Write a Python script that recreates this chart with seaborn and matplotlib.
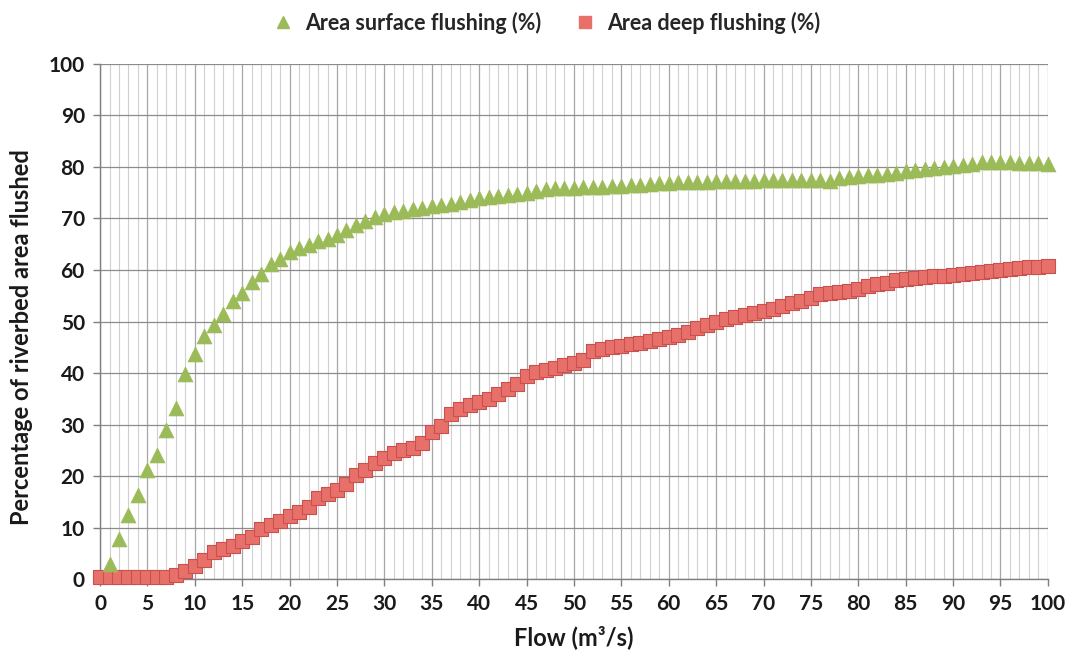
import numpy as np
import pandas as pd
import matplotlib
matplotlib.use("Agg")
import matplotlib.pyplot as plt
from matplotlib.ticker import MultipleLocator
from matplotlib.lines import Line2D
import seaborn as sns

flow = list(range(0, 101))

surface = [
    None, 3.0, 7.8, 12.5, 16.4, 21.2, 24.0, 28.9, 33.3, 39.8,
    43.6, 47.2, 49.3, 51.5, 54.0, 55.5, 57.6, 59.2, 61.2, 62.1,
    63.4, 64.2, 64.9, 65.6, 66.1, 66.8, 67.8, 68.8, 69.5, 70.3,
    70.8, 71.2, 71.5, 71.8, 72.1, 72.4, 72.6, 72.8, 73.2, 73.6,
    73.9, 74.2, 74.4, 74.6, 74.8, 75.0, 75.3, 75.8, 75.9, 76.0,
    76.0, 76.1, 76.2, 76.2, 76.3, 76.4, 76.5, 76.6, 76.7, 76.8,
    76.9, 77.0, 77.0, 77.1, 77.1, 77.2, 77.2, 77.3, 77.3, 77.3,
    77.4, 77.4, 77.5, 77.5, 77.5, 77.5, 77.4, 77.3, 77.8, 78.0,
    78.2, 78.4, 78.5, 78.6, 78.8, 79.2, 79.4, 79.6, 79.8, 80.0,
    80.2, 80.4, 80.5, 81.0, 81.0, 81.0, 80.9, 80.8, 80.8, 80.7,
    80.6,
]

deep = [
    0.3, 0.3, 0.3, 0.3, 0.3, 0.3, 0.3, 0.3, 0.8, 1.6,
    2.6, 3.6, 5.2, 5.8, 6.5, 7.4, 8.1, 9.8, 10.4, 11.2,
    12.2, 13.0, 14.0, 15.8, 16.5, 17.3, 18.5, 20.2, 21.2, 22.5,
    23.5, 24.5, 25.0, 25.5, 26.5, 28.5, 29.8, 32.0, 33.0, 33.8,
    34.3, 35.0, 36.0, 36.8, 37.8, 39.5, 40.2, 40.6, 41.0, 41.5,
    42.0, 42.6, 44.2, 44.6, 45.0, 45.3, 45.6, 45.9, 46.2, 46.6,
    46.9, 47.3, 48.0, 48.7, 49.4, 50.0, 50.5, 50.9, 51.3, 51.7,
    52.0, 52.5, 53.0, 53.6, 54.0, 54.5, 55.3, 55.5, 55.7, 56.0,
    56.4, 56.8, 57.2, 57.5, 58.0, 58.3, 58.5, 58.6, 58.8, 58.9,
    59.1, 59.3, 59.5, 59.7, 59.9, 60.0, 60.2, 60.3, 60.5, 60.6,
    60.7,
]

series_names = ["Area surface flushing (%)", "Area deep flushing (%)"]
x_ticks = list(range(0, 101, 5))
y_ticks = list(range(0, 101, 10))

sns.set_theme(style="white")
plt.rcParams["font.family"] = ["Lato", "DejaVu Sans"]
plt.rcParams["font.weight"] = "bold"

fig = plt.figure(figsize=(10.71, 6.57), dpi=100)
ax = fig.add_axes([0.0934, 0.1187, 0.885, 0.7839])

green = "#9BBB59"
red_face = "#E8706A"
red_edge = "#C9504C"

df_s = pd.DataFrame({"flow": flow, "value": pd.to_numeric(pd.Series(surface), errors="coerce")})
df_d = pd.DataFrame({"flow": flow, "value": deep})

sns.scatterplot(data=df_d, x="flow", y="value", marker="s", s=88,
                color=red_face, edgecolor=red_edge, linewidth=0.8,
                ax=ax, clip_on=False, zorder=4)
sns.scatterplot(data=df_s, x="flow", y="value", marker="^", s=115,
                color=green, edgecolor=green, linewidth=0.5,
                ax=ax, clip_on=False, zorder=5)

ax.set_xlim(0, 100)
ax.set_ylim(0, 100)
ax.set_xticks(x_ticks)
ax.set_yticks(y_ticks)
ax.xaxis.set_minor_locator(MultipleLocator(1))

ax.grid(True, which="major", axis="y", color="#8c8c8c", linewidth=0.9)
ax.grid(True, which="major", axis="x", color="#a6a6a6", linewidth=0.9)
ax.grid(True, which="minor", axis="x", color="#d0d0d0", linewidth=0.8)
ax.set_axisbelow(True)

for side in ["top", "right"]:
    ax.spines[side].set_visible(False)
for side in ["left", "bottom"]:
    ax.spines[side].set_color("#7f7f7f")
    ax.spines[side].set_linewidth(1.0)

ax.tick_params(axis="both", which="major", length=5, width=1.0,
               color="#7f7f7f", direction="out", labelsize=15,
               bottom=True, left=True, pad=6)
ax.tick_params(axis="x", which="minor", length=0)
for lab in ax.get_xticklabels() + ax.get_yticklabels():
    lab.set_fontweight("bold")
    lab.set_color("#1a1a1a")

ax.set_xlabel("Flow (m\u00b3/s)", fontsize=17, fontweight="bold",
              color="#1a1a1a", labelpad=8)
ax.set_ylabel("Percentage of riverbed area flushed", fontsize=17,
              fontweight="bold", color="#1a1a1a", labelpad=10)
ax.yaxis.set_label_coords(-0.071, 0.47)

handles = [
    Line2D([], [], linestyle="none", marker="^", markersize=9,
           markerfacecolor=green, markeredgecolor=green),
    Line2D([], [], linestyle="none", marker="s", markersize=9,
           markerfacecolor=red_face, markeredgecolor=red_face),
]
fig.legend(handles, series_names, loc="center", bbox_to_anchor=(0.505, 0.965),
           ncol=2, frameon=False, handletextpad=0.05,
           columnspacing=1.0, prop={"weight": "bold", "size": 15.5})

fig.savefig("out.png", dpi=100, facecolor="white")
